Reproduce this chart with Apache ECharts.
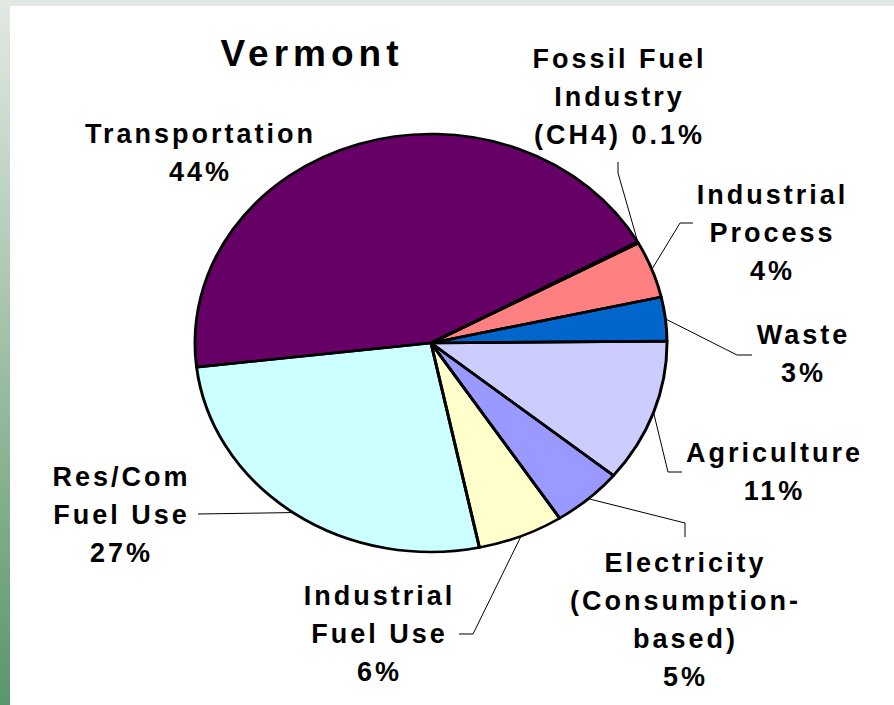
<!DOCTYPE html>
<html>
<head>
<meta charset="utf-8">
<script src="https://cdn.jsdelivr.net/npm/echarts@6/dist/echarts.min.js"></script>
<style>
  html, body { margin: 0; background: #fff; }
  #wrap { position: relative; width: 894px; height: 705px; overflow: hidden; background: #fff; }
  #band { position: absolute; left: 0; top: 0; width: 894px; height: 6px; background: #e1e7e1; }
  #edge { position: absolute; left: 0; top: 0; width: 10px; height: 705px; background: linear-gradient(#e3e9e3, #5b966a); }
  #pie, #text { position: absolute; left: 0; top: 0; width: 894px; height: 705px; }
  /* the slide's pie is a stretched circle */
  #pie { transform: scaleX(1.1292); transform-origin: 431px 343px; }
  #text text { letter-spacing: 3px; }
  #text text[style*="37px"] { letter-spacing: 5px; }
</style>
</head>
<body>
<div id="wrap">
  <div id="band"></div>
  <div id="edge"></div>
  <div id="pie"></div>
  <div id="text"></div>
</div>
<script>
// shares of Vermont greenhouse gas emissions (%)
const categories = [
  'Fossil Fuel\nIndustry\n(CH4)',
  'Industrial\nProcess',
  'Waste',
  'Agriculture',
  'Electricity\n(Consumption-\nbased)',
  'Industrial\nFuel Use',
  'Res/Com\nFuel Use',
  'Transportation'
];
const shares = [0.1, 4.4, 3.4, 11.1, 4.9, 5.9, 26.5, 43.9];
const colors = ['#993366', '#ff8080', '#0066cc', '#ccccff', '#9999ff', '#ffffcc', '#ccffff', '#660066'];

// label placement: centre of text block, separator before %, leader line bends
const spots = [
  { x: 618, y: 97, sep: ' ', line: [[618, 173], [618, 162]] },
  { x: 771, y: 233, sep: '\n', line: [[680, 223], [693, 223]] },
  { x: 802, y: 354, sep: '\n', line: [[737, 355], [752, 355]] },
  { x: 773, y: 472, sep: '\n', line: [[668, 472], [682, 472]] },
  { x: 684, y: 620, sep: '\n', line: [[685, 523], [685, 537]] },
  { x: 378, y: 634, sep: '\n', line: [[473, 634], [459, 634]] },
  { x: 120, y: 515, sep: '\n', line: [[198, 514]] },
  { x: 199, y: 153, sep: '\n', line: null }
];

const cx = 431, cy = 343, r = 209;
const stretch = 1.1292;
const font = 'Liberation Sans, Arial, sans-serif';

function pct(v) {
  return (v < 1 ? v.toFixed(1) : Math.round(v)) + '%';
}

const base = {
  type: 'pie',
  center: [cx, cy],
  radius: r,
  startAngle: 28.9,
  clockwise: true,
  silent: true,
  avoidLabelOverlap: false
};

const pieChart = echarts.init(document.getElementById('pie'), null, { renderer: 'svg' });
pieChart.setOption({
  animation: false,
  series: [
    Object.assign({}, base, {
      label: { show: false },
      labelLine: { show: false },
      itemStyle: { borderWidth: 0 },
      data: categories.map((name, i) => ({ name: name, value: shares[i], itemStyle: { color: colors[i] } }))
    }),
    // outlines drawn over all the fills so every edge gets the same weight
    Object.assign({}, base, {
      label: { show: false },
      labelLine: { show: false },
      itemStyle: { color: 'rgba(0,0,0,0)', borderColor: '#000', borderWidth: 2.6, borderJoin: 'round' },
      data: categories.map((name, i) => ({ name: name, value: shares[i] }))
    })
  ]
});

const textChart = echarts.init(document.getElementById('text'), null, { renderer: 'svg' });
textChart.setOption({
  animation: false,
  title: {
    text: 'Vermont',
    left: 307,
    top: 30,
    textAlign: 'center',
    textStyle: { fontFamily: font, fontSize: 37, fontWeight: 'bold', color: '#000' }
  },
  series: [Object.assign({}, base, {
    itemStyle: { color: 'rgba(0,0,0,0)', borderWidth: 0 },
    label: {
      show: true,
      position: 'outside',
      fontFamily: font,
      fontSize: 27,
      fontWeight: 'bold',
      color: '#000',
      lineHeight: 38,
      align: 'center',
      formatter: p => p.name + spots[p.dataIndex].sep + pct(p.value)
    },
    labelLine: { show: true, lineStyle: { color: '#000', width: 1 } },
    labelLayout: function (p) {
      const s = spots[p.dataIndex];
      const out = { x: s.x + 1.5, y: s.y, align: 'center', verticalAlign: 'middle' };
      if (s.line && p.labelLinePoints) {
        const a = p.labelLinePoints[0];
        out.labelLinePoints = [[cx + (a[0] - cx) * stretch, a[1]]].concat(s.line);
      }
      return out;
    },
    data: categories.map((name, i) => ({
      name: name,
      value: shares[i],
      labelLine: { show: !!spots[i].line }
    }))
  })]
});
</script>
</body>
</html>
